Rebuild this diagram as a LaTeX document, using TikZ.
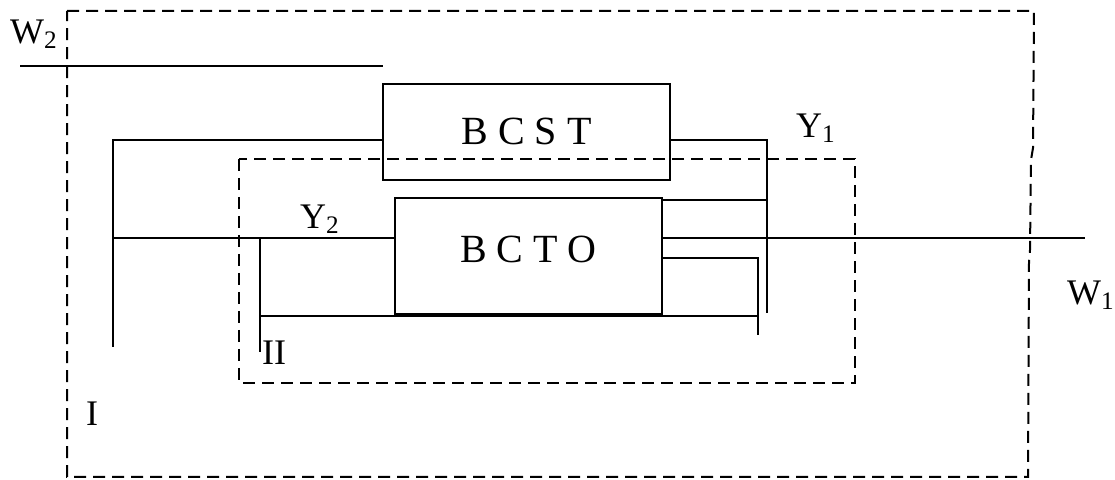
\documentclass[tikz,border=0pt]{standalone}
\usepackage{fontspec}
\setmainfont{Liberation Serif}
\usetikzlibrary{positioning}
\tikzstyle{block}=[rectangle,draw=black,line width=1pt,inner sep=0pt,outer sep=0pt]
\tikzstyle{blockname}=[inner sep=0pt,font=\fontsize{20}{22}\selectfont]
\tikzstyle{wire}=[draw=black,line width=1pt]
\tikzstyle{border}=[draw=black,line width=1pt,dash pattern=on 6pt off 3.5pt]
\tikzstyle{label}=[inner sep=0pt,font=\fontsize{18}{20}\selectfont]

\begin{document}
\begin{tikzpicture}[x=0.5pt,y=-0.5pt]
	\useasboundingbox (0,0) rectangle (1115,480);
	% contours I and II
	\draw [style=border] (67,11) -- (1034,11) -- (1033,148) -- (1031,160) -- (1030,250) -- (1029,262) -- (1028,477) -- (67,477) -- cycle;
	\draw [style=border] (239,159) rectangle (855,383);
	% blocks
	\node [style=block, minimum width=143.5pt, minimum height=48pt] (bcst) at (526.5,132) {};
	\node [style=block, minimum width=133.5pt, minimum height=58pt] (bcto) at (528.5,256) {};
	\node [style=blockname] (tbcst) at ([yshift=0.5pt]bcst.center) {B C S T};
	\node [style=blockname] (tbcto) at ([yshift=3.25pt]bcto.center) {B C T O};
	% junctions
	\coordinate (w2in) at (20,66);
	\coordinate (fbl) at (113,140);
	\coordinate (fbld) at (113,347);
	\coordinate (main) at (113,238);
	\coordinate (w1out) at (1085,238);
	\coordinate (fbr) at (767,140);
	\coordinate (fbrd) at (767,313);
	\coordinate (in2) at (260,238);
	\coordinate (in2d) at (260,352);
	\coordinate (lo) at (758,316);
	\coordinate (lod) at (758,335);
	\coordinate (lou) at (758,258);
	% wires
	\draw [style=wire] (w2in) -- (bcst.west |- w2in);
	\draw [style=wire] (bcst.west |- fbl) -- (fbl) -- (fbld);
	\draw [style=wire] (main) -- (bcto.west |- main);
	\draw [style=wire] (bcto.east |- main) -- (w1out);
	\draw [style=wire] (bcst.east |- fbr) -- (fbr) -- (fbrd);
	\draw [style=wire] (bcto.east |- 0,200) -- (767,200);
	\draw [style=wire] (in2d) -- (in2);
	\draw [style=wire] (in2 |- lo) -- (lo);
	\draw [style=wire] (bcto.east |- lou) -- (lou) -- (lod);
	% labels
	\node [style=label] (lw2) at (34,34) {W\textsubscript{2}};
	\node [style=label] (lw1) at (1091,295) {W\textsubscript{1}};
	\node [style=label] (ly1) at (816,128) {Y\textsubscript{1}};
	\node [style=label] (ly2) at (320,219) {Y\textsubscript{2}};
	\node [style=label] (li) at (92,414) {I};
	\node [style=label] (lii) at (274,353) {II};
\end{tikzpicture}
\end{document}
